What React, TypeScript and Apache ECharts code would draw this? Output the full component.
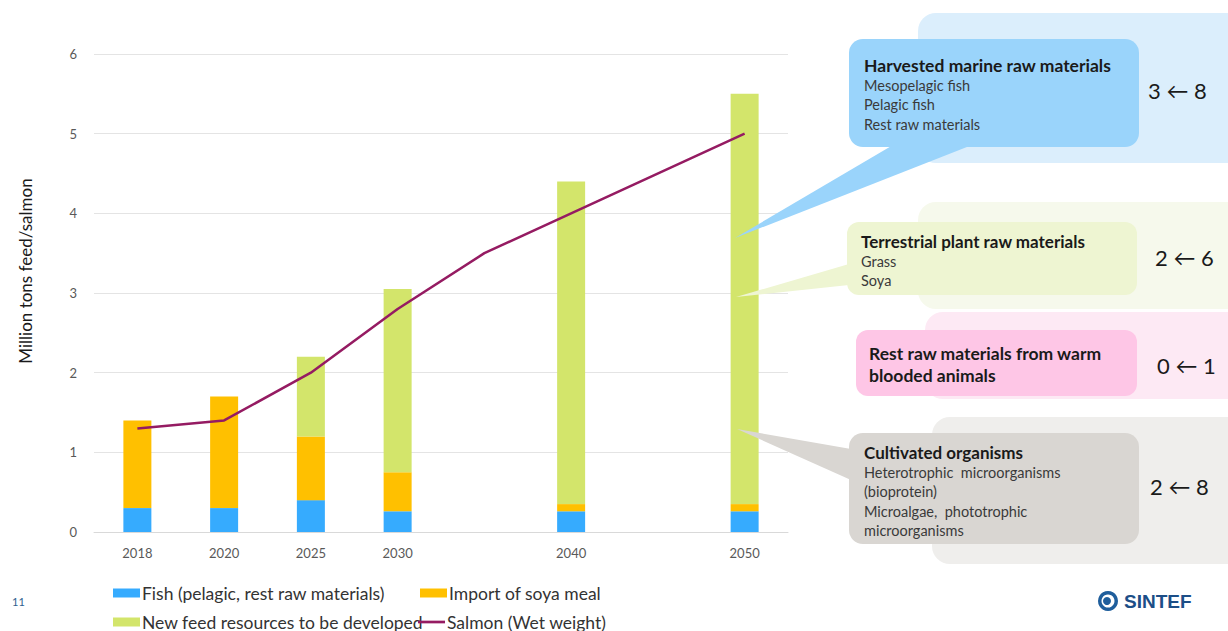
import React, { useEffect, useRef } from "react";
import * as echarts from "echarts";

const categories = ["2018", "2020", "2025", "2030", "2035", "2040", "2045", "2050"];
const hiddenTickLabels = ["2035", "2045"];
const fishValues = [0.3, 0.3, 0.4, 0.26, null, 0.26, null, 0.26];
const soyaValues = [1.1, 1.4, 0.8, 0.49, null, 0.09, null, 0.09];
const newFeedValues = [0, 0, 1.0, 2.3, null, 4.05, null, 5.15];
const salmonValues = [1.3, 1.4, 2.0, 2.8, 3.5, 4.0, null, 5.0];
const yTicks = [0, 1, 2, 3, 4, 5, 6];

const seriesNames = {
  fish: "Fish (pelagic, rest raw materials)",
  soya: "Import of soya meal",
  feed: "New feed resources to be developed",
  salmon: "Salmon (Wet weight)",
};

const colors = {
  fish: "#36ABFE",
  soya: "#FFC000",
  feed: "#D3E56B",
  salmon: "#951B62",
};

const FONT = "Lato, 'Open Sans', sans-serif";

const callouts = [
  {
    title: ["Harvested marine raw materials"],
    lines: ["Mesopelagic fish", "Pelagic fish", "Rest raw materials"],
    ratio: "3 \u2190 8",
  },
  {
    title: ["Terrestrial plant raw materials"],
    lines: ["Grass", "Soya"],
    ratio: "2 \u2190 6",
  },
  {
    title: ["Rest raw materials from warm", "blooded animals"],
    lines: [],
    ratio: "0 \u2190 1",
  },
  {
    title: ["Cultivated organisms"],
    lines: ["Heterotrophic  microorganisms", "(bioprotein)", "Microalgae,  phototrophic", "microorganisms"],
    ratio: "2 \u2190 8",
  },
];

function textEl(x: number, y: number, text: string, size: number, opts: any = {}) {
  return {
    type: "text",
    x,
    y,
    z: 20,
    rotation: opts.rotation || 0,
    style: {
      text,
      fill: opts.fill || "#262626",
      font: `${opts.weight || "normal"} ${size}px ${opts.family || FONT}`,
      textVerticalAlign: "middle",
      textAlign: opts.align || "left",
    },
  };
}

export default function App() {
  const ref = useRef<HTMLDivElement>(null);

  useEffect(() => {
    if (!ref.current) return;
    const chart = echarts.init(ref.current, null, { renderer: "svg" });

    const graphics: any[] = [];
    // Background light panels
    graphics.push({ type: "rect", z: 10, shape: { x: 918, y: 13, width: 330, height: 150, r: 18 }, style: { fill: "#DBEEFC" } });
    graphics.push({ type: "rect", z: 10, shape: { x: 918, y: 202, width: 330, height: 107, r: 18 }, style: { fill: "#F6F9EC" } });
    graphics.push({ type: "rect", z: 10, shape: { x: 925, y: 312, width: 330, height: 87, r: 18 }, style: { fill: "#FDE9F4" } });
    graphics.push({ type: "rect", z: 10, shape: { x: 932, y: 417, width: 330, height: 147, r: 18 }, style: { fill: "#EFEEEC" } });
    // Pointers
    graphics.push({ type: "polygon", z: 11, shape: { points: [[893, 145], [972, 145], [735, 238]] }, style: { fill: "#9AD4FB" } });
    graphics.push({ type: "polygon", z: 11, shape: { points: [[849, 264], [849, 285], [736, 297]] }, style: { fill: "#EEF5D2" } });
    graphics.push({ type: "polygon", z: 11, shape: { points: [[851, 449], [851, 480], [737, 429]] }, style: { fill: "#D9D6D2" } });
    // Boxes
    graphics.push({ type: "rect", z: 12, shape: { x: 849, y: 39, width: 290, height: 108, r: 14 }, style: { fill: "#9AD4FB" } });
    graphics.push({ type: "rect", z: 12, shape: { x: 847, y: 222, width: 290, height: 73, r: 12 }, style: { fill: "#EEF5D2" } });
    graphics.push({ type: "rect", z: 12, shape: { x: 856, y: 330, width: 281, height: 66, r: 12 }, style: { fill: "#FEC6E6" } });
    graphics.push({ type: "rect", z: 12, shape: { x: 849, y: 433, width: 290, height: 111, r: 14 }, style: { fill: "#D9D6D2" } });

    // Texts
    const c0 = callouts[0];
    graphics.push(textEl(864, 65, c0.title[0], 17.5, { weight: "bold", fill: "#1a1a1a" }));
    c0.lines.forEach((l, i) => graphics.push(textEl(864, 85 + i * 19.5, l, 14.5, { fill: "#3a3a3a" })));
    graphics.push(textEl(1148, 90, c0.ratio, 22, { fill: "#1a1a1a" }));

    const c1 = callouts[1];
    graphics.push(textEl(861, 241, c1.title[0], 17, { weight: "bold", fill: "#1a1a1a" }));
    c1.lines.forEach((l, i) => graphics.push(textEl(861, 261 + i * 19.5, l, 14.5, { fill: "#3a3a3a" })));
    graphics.push(textEl(1155, 257, c1.ratio, 22, { fill: "#1a1a1a" }));

    const c2 = callouts[2];
    c2.title.forEach((l, i) => graphics.push(textEl(869, 353 + i * 22, l, 17.5, { weight: "bold", fill: "#1a1a1a" })));
    graphics.push(textEl(1157, 365, c2.ratio, 22, { fill: "#1a1a1a" }));

    const c3 = callouts[3];
    graphics.push(textEl(864, 452, c3.title[0], 17, { weight: "bold", fill: "#1a1a1a" }));
    c3.lines.forEach((l, i) => graphics.push(textEl(864, 472 + i * 19.5, l, 14.5, { fill: "#3a3a3a" })));
    graphics.push(textEl(1150, 486, c3.ratio, 22, { fill: "#1a1a1a" }));

    // Y axis title
    graphics.push(textEl(25, 271, "Million tons feed/salmon", 17, { fill: "#1a1a1a", align: "center", rotation: Math.PI / 2 }));

    // Page number and logo
    graphics.push(textEl(12, 601, "11", 11, { fill: "#2F5F8F" }));
    graphics.push({ type: "ring", z: 20, shape: { cx: 1108, cy: 601, r: 10, r0: 6.5 }, style: { fill: "#1F5E9C" } });
    graphics.push({ type: "circle", z: 20, shape: { cx: 1107, cy: 601, r: 4 }, style: { fill: "#1F5E9C" } });
    graphics.push(textEl(1124, 601, "SINTEF", 19, { weight: "bold", fill: "#1C4E87", family: "'Liberation Sans', Arial, sans-serif" }));

    const legendCommon = {
      itemWidth: 27,
      itemHeight: 9,
      itemGap: 0,
      padding: 0,
      textStyle: { fontSize: 17.5, color: "#333333", fontFamily: FONT, padding: [0, 0, 0, -3] },
      selectedMode: false,
      orient: "horizontal",
    };

    chart.setOption({
      animation: false,
      backgroundColor: "#ffffff",
      grid: { left: 94, right: 440, top: 54, bottom: 99, containLabel: false },
      legend: [
        { ...legendCommon, left: 113, top: 584, data: [{ name: seriesNames.fish, icon: "rect" }] },
        { ...legendCommon, left: 420, top: 584, data: [{ name: seriesNames.soya, icon: "rect" }] },
        { ...legendCommon, left: 113, top: 613, data: [{ name: seriesNames.feed, icon: "rect" }] },
        { ...legendCommon, left: 418, top: 613, data: [{ name: seriesNames.salmon, icon: "path://M0,0 L30,0 L30,3 L0,3 Z", itemStyle: { color: colors.salmon } }], itemHeight: 3 },
      ],
      xAxis: {
        type: "category",
        data: categories,
        boundaryGap: true,
        axisLine: { show: true, lineStyle: { color: "#D9D9D9", width: 1 } },
        axisTick: { show: false },
        axisLabel: {
          color: "#595959",
          fontSize: 13,
          fontFamily: FONT,
          margin: 14,
          interval: 0,
          formatter: (v: string) => (hiddenTickLabels.includes(v) ? "" : v),
        },
      },
      yAxis: {
        type: "value",
        min: yTicks[0],
        max: yTicks[yTicks.length - 1],
        interval: 1,
        axisLine: { show: false },
        axisTick: { show: false },
        axisLabel: { color: "#595959", fontSize: 13, fontFamily: FONT, margin: 17 },
        splitLine: { lineStyle: { color: "#E4E4E4", width: 1 } },
      },
      series: [
        { name: seriesNames.fish, type: "bar", stack: "feed", barWidth: 28, data: fishValues, itemStyle: { color: colors.fish } },
        { name: seriesNames.soya, type: "bar", stack: "feed", barWidth: 28, data: soyaValues, itemStyle: { color: colors.soya } },
        { name: seriesNames.feed, type: "bar", stack: "feed", barWidth: 28, data: newFeedValues, itemStyle: { color: colors.feed } },
        {
          name: seriesNames.salmon,
          type: "line",
          data: salmonValues,
          connectNulls: true,
          showSymbol: false,
          symbol: "none",
          lineStyle: { color: colors.salmon, width: 2.5 },
          itemStyle: { color: colors.salmon },
          z: 5,
        },
      ],
      graphic: graphics,
    });

    return () => chart.dispose();
  }, []);

  return <div ref={ref} style={{ position: "absolute", left: 0, top: 0, width: 1228, height: 631 }} />;
}
